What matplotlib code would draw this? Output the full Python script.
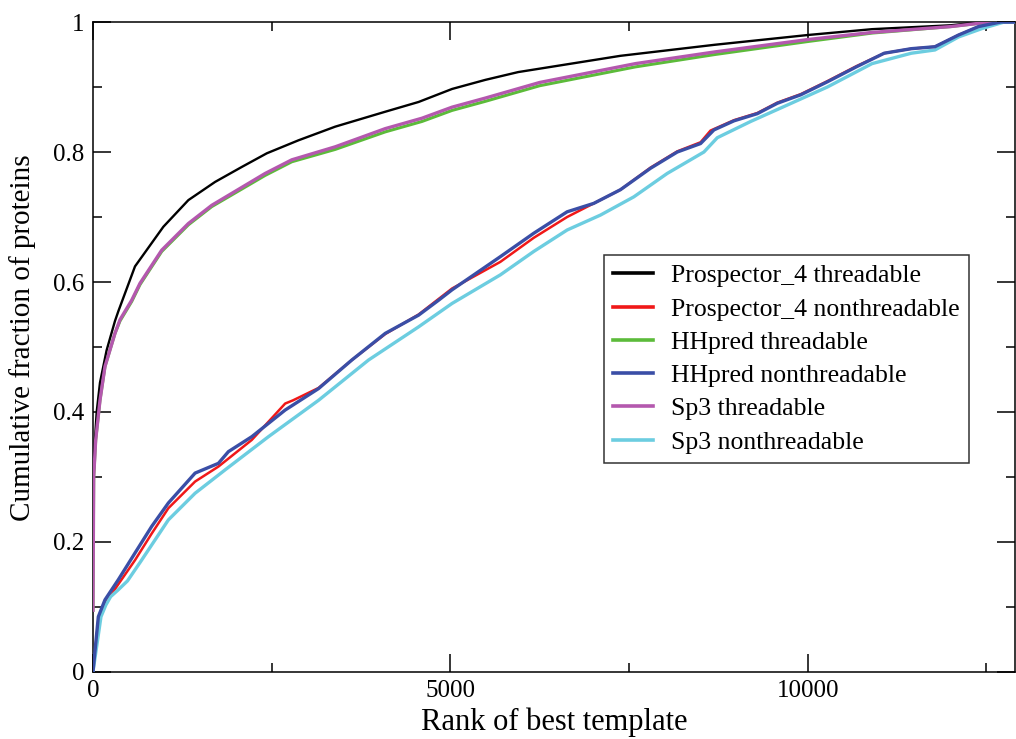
import matplotlib
matplotlib.use('Agg')
import numpy as np
from matplotlib import pyplot as plt
from matplotlib.ticker import MultipleLocator

plt.rcParams['font.family'] = ['Liberation Serif', 'DejaVu Serif']

# Prospector_4 threadable
p4_thr_x = [0, 18, 52, 98, 191, 308, 355, 588, 985, 1335, 1709, 2082, 2432,
            2875, 3389, 4090, 4556, 5024, 5490, 5950, 7380, 8700, 10000,
            10900, 12000, 12440, 12900]
p4_thr_y = [0.25, 0.34, 0.40, 0.445, 0.495, 0.54, 0.555, 0.624, 0.685, 0.726,
            0.754, 0.777, 0.798, 0.818, 0.839, 0.862, 0.877, 0.897, 0.911,
            0.923, 0.948, 0.965, 0.980, 0.989, 0.995, 1.0, 1.0]

# Prospector_4 nonthreadable
p4_non_x = [0, 75, 168, 355, 588, 822, 1055, 1429, 1755, 2222, 2689, 2800,
            3156, 3622, 4090, 4556, 5024, 5700, 6167, 6634, 7007, 7380, 7801,
            8175, 8501, 8640, 8969, 9295, 9575, 9902, 10275, 10680, 11070,
            11450, 11780, 12110, 12390, 12610, 12700, 12900]
p4_non_y = [0.0, 0.08, 0.105, 0.135, 0.172, 0.213, 0.252, 0.293, 0.316, 0.357,
            0.413, 0.418, 0.437, 0.48, 0.52, 0.55, 0.59, 0.631, 0.668, 0.700,
            0.721, 0.742, 0.776, 0.801, 0.815, 0.833, 0.849, 0.860, 0.876,
            0.889, 0.909, 0.932, 0.952, 0.959, 0.962, 0.98, 0.993, 0.998,
            1.0, 1.0]

# HHpred threadable
hh_thr_x = [0, 10, 38, 98, 168, 308, 378, 542, 658, 962, 1335, 1662, 2409,
            2782, 3389, 4090, 4603, 5024, 5490, 6250, 7590, 8700, 10000,
            10900, 12000, 12550, 12900]
hh_thr_y = [0.095, 0.30, 0.357, 0.418, 0.47, 0.521, 0.540, 0.570, 0.596,
            0.647, 0.688, 0.716, 0.764, 0.785, 0.804, 0.831, 0.847, 0.864,
            0.878, 0.902, 0.931, 0.950, 0.970, 0.983, 0.993, 1.0, 1.0]

# HHpred nonthreadable
hh_non_x = [0, 75, 168, 355, 588, 822, 1055, 1429, 1755, 1895, 2222, 2689,
            3156, 3622, 4090, 4556, 4836, 5024, 5700, 6167, 6634, 7007, 7380,
            7801, 8175, 8501, 8688, 8969, 9295, 9575, 9902, 10275, 10680,
            11070, 11450, 11780, 12110, 12390, 12610, 12700, 12900]
hh_non_y = [0.0, 0.085, 0.111, 0.142, 0.183, 0.224, 0.260, 0.306, 0.321,
            0.339, 0.362, 0.403, 0.436, 0.48, 0.521, 0.549, 0.572, 0.588,
            0.639, 0.675, 0.708, 0.721, 0.742, 0.775, 0.800, 0.813, 0.834,
            0.848, 0.859, 0.875, 0.888, 0.908, 0.931, 0.952, 0.959, 0.962,
            0.98, 0.993, 0.998, 1.0, 1.0]

# Sp3 threadable
sp3_thr_x = [0, 10, 38, 98, 168, 308, 378, 542, 658, 962, 1335, 1662, 2409,
             2782, 3389, 4090, 4603, 5024, 5490, 6250, 7590, 8700, 10000,
             10900, 12000, 12550, 12900]
sp3_thr_y = [0.095, 0.30, 0.357, 0.418, 0.47, 0.521, 0.542, 0.572, 0.598,
             0.649, 0.690, 0.718, 0.767, 0.788, 0.808, 0.836, 0.852, 0.869,
             0.883, 0.907, 0.936, 0.954, 0.973, 0.984, 0.993, 1.0, 1.0]

# Sp3 nonthreadable
sp3_non_x = [0, 112, 180, 248, 350, 482, 668, 1055, 1429, 1849, 2455, 3156,
             3856, 4556, 5024, 5700, 6167, 6634, 7101, 7567, 8034, 8548, 8735,
             9202, 9669, 10275, 10900, 11450, 11780, 12110, 12440, 12750,
             12900]
sp3_non_y = [0.0, 0.085, 0.103, 0.116, 0.126, 0.140, 0.170, 0.234, 0.275,
             0.311, 0.362, 0.418, 0.48, 0.531, 0.567, 0.611, 0.647, 0.680,
             0.703, 0.731, 0.767, 0.800, 0.822, 0.847, 0.870, 0.900, 0.936,
             0.952, 0.957, 0.977, 0.99, 1.0, 1.0]

series = [
    ('Prospector_4 threadable', p4_thr_x, p4_thr_y, 'black', 1.7),
    ('Prospector_4 nonthreadable', p4_non_x, p4_non_y, '#f01818', 1.8),
    ('HHpred threadable', hh_thr_x, hh_thr_y, '#5cbb3a', 2.2),
    ('HHpred nonthreadable', hh_non_x, hh_non_y, '#3a4ea6', 2.4),
    ('Sp3 threadable', sp3_thr_x, sp3_thr_y, '#b458ae', 2.4),
    ('Sp3 nonthreadable', sp3_non_x, sp3_non_y, '#6ccde0', 2.4),
]
zorders = [3, 2, 2, 4, 3, 3]

fig = plt.figure(figsize=(10.16, 7.39), dpi=100)
ax = fig.add_axes([0.0915, 0.0907, 0.9075, 0.8795])

for (label, x, y, color, lw), z in zip(series, zorders):
    ax.plot(x, y, color=color, lw=lw, label=label, zorder=z)

ax.set_xlim(0, 12900)
ax.set_ylim(0, 1)
ax.xaxis.set_major_locator(MultipleLocator(5000))
ax.xaxis.set_minor_locator(MultipleLocator(2500))
ax.yaxis.set_minor_locator(MultipleLocator(0.1))
ax.set_yticks([0, 0.2, 0.4, 0.6, 0.8, 1.0])
ax.set_yticklabels(['0', '0.2', '0.4', '0.6', '0.8', '1'])
ax.tick_params(which='both', direction='in', top=True, right=True,
               width=1.1, labelsize=18, pad=6)
ax.tick_params(which='major', length=13)
ax.tick_params(which='minor', length=6.5)
for sp in ax.spines.values():
    sp.set_linewidth(1.1)

ax.set_xlabel('Rank of best template', fontsize=22, labelpad=4)
ax.set_ylabel('Cumulative fraction of proteins', fontsize=21)
ax.yaxis.set_label_coords(-0.062, 0.515)

leg = ax.legend(loc='upper left', bbox_to_anchor=(0.554, 0.6415),
                fontsize=18.5, frameon=True, fancybox=False,
                handlelength=1.56, handletextpad=0.7, labelspacing=0.40,
                borderpad=0.36, borderaxespad=0)
leg.get_frame().set_edgecolor('black')
leg.get_frame().set_linewidth(1.1)
for line in leg.get_lines():
    line.set_linewidth(2.6)

fig.savefig('out.png', dpi=100)
